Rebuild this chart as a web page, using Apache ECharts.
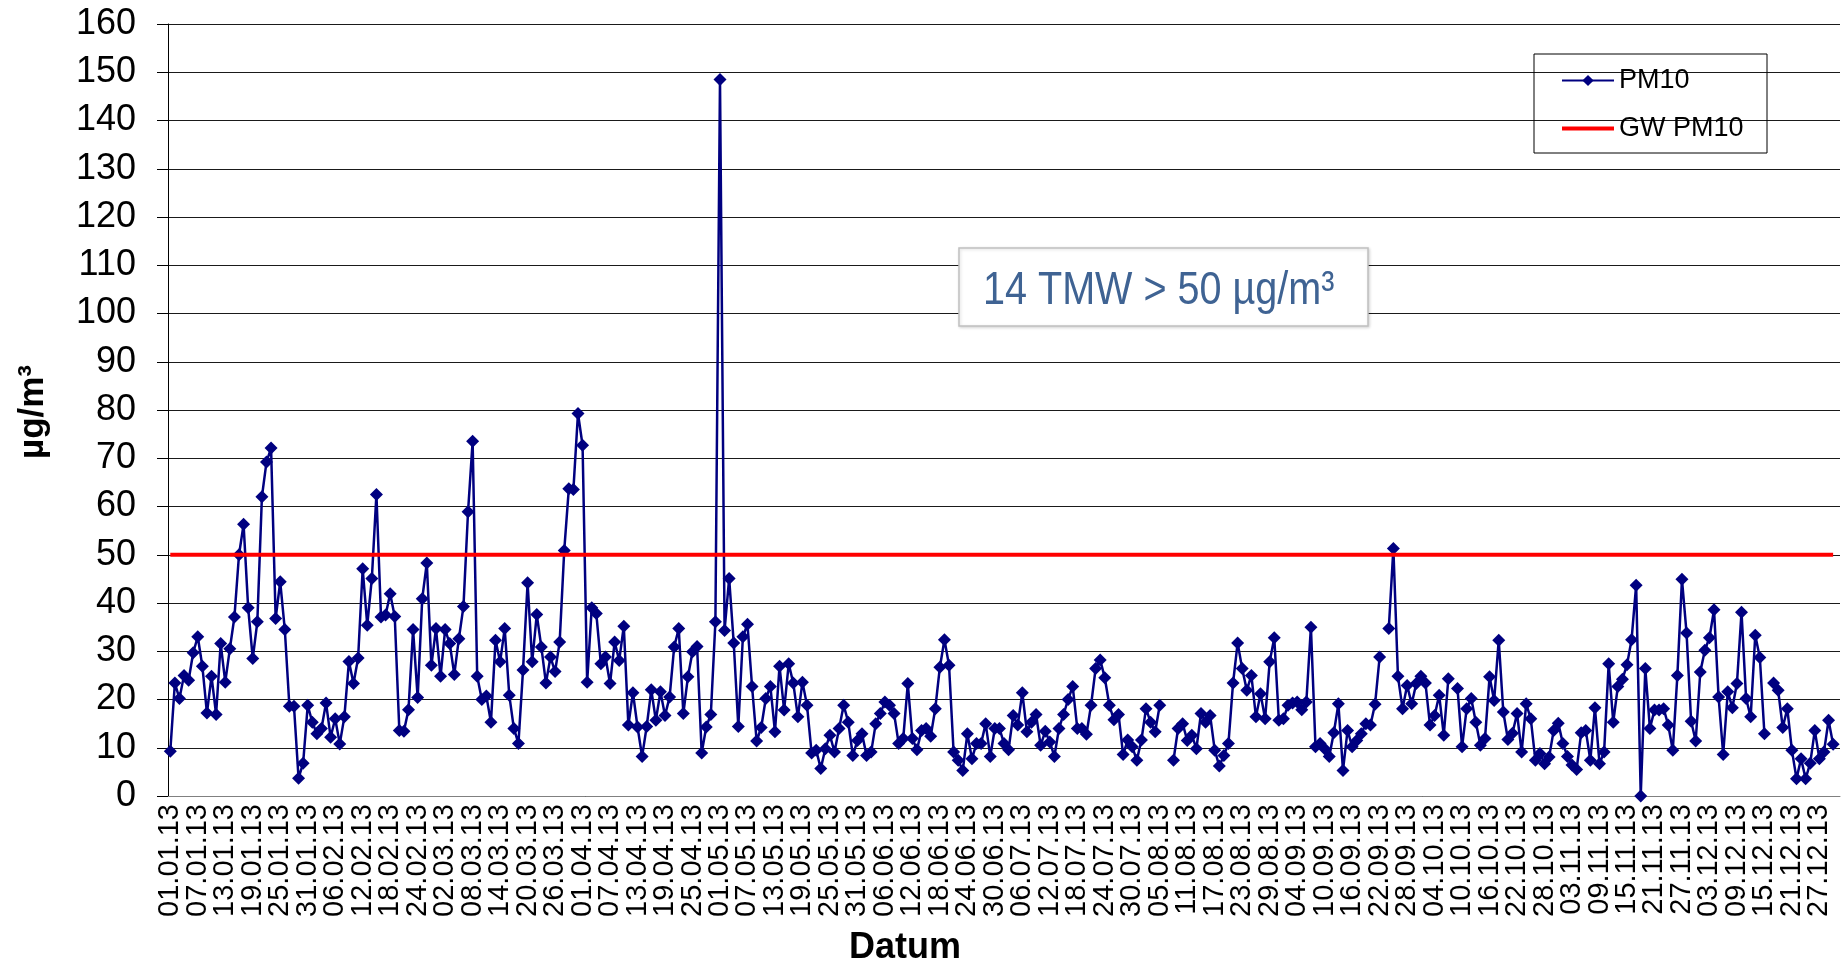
<!DOCTYPE html>
<html>
<head>
<meta charset="utf-8">
<script src="https://cdn.jsdelivr.net/npm/echarts@6/dist/echarts.min.js"></script>
<style>html,body{margin:0;padding:0;background:#fff;}#c{width:1846px;height:963px;}</style>
</head>
<body>
<div id="c"></div>
<script>
// PM10 daily means 2013 (µg/m³), one array per month; null = no measurement
const jan = [9.3,23.4,20.2,25.0,24.0,29.7,33.0,26.9,17.2,24.8,16.9,31.6,23.6,30.5,37.1,50.0,56.3,39.0,28.5,36.1,62.0,69.2,72.1,36.8,44.4,34.5,18.6,18.6,3.7,6.8,18.8];
const feb = [15.3,12.9,14.0,19.3,12.2,16.0,10.8,16.4,27.9,23.3,28.6,47.1,35.4,45.1,62.5,37.1,37.5,41.9,37.2,13.6,13.4,17.9,34.5,20.4,40.9,48.3,27.1,34.7];
const mar = [24.8,34.5,31.6,25.2,32.6,39.3,58.9,73.5,24.8,20.0,20.7,15.3,32.3,27.8,34.7,20.9,14.0,10.9,26.1,44.2,27.8,37.6,30.9,23.4,28.8,25.8,31.9,50.9,63.7,63.5,79.3];
const apr = [72.7,23.6,39.0,37.8,27.4,28.8,23.3,31.9,28.1,35.2,14.7,21.4,14.3,8.2,14.4,22.0,15.7,21.6,16.7,20.5,30.9,34.7,17.1,24.7,29.9,31.0,8.9,14.3,16.9,36.1];
const may = [148.5,34.3,45.1,31.7,14.4,33.0,35.6,22.7,11.4,14.2,20.2,22.7,13.3,26.9,17.8,27.4,23.4,16.4,23.6,18.8,8.9,9.5,5.7,9.8,12.6,9.1,14.0,18.8,15.3,8.4,11.5];
const jun = [12.9,8.4,9.1,15.0,17.1,19.5,18.8,17.1,10.9,11.9,23.3,11.9,9.6,13.6,14.0,12.4,18.1,26.7,32.4,27.1,9.1,7.4,5.3,12.9,7.7,10.9,10.9,15.0,8.2,14.0];
const jul = [14.0,10.9,9.6,16.7,14.7,21.4,13.3,15.3,16.9,10.5,13.4,11.2,8.2,14.0,16.9,20.0,22.7,14.0,14.0,12.8,18.8,26.4,28.2,24.5,18.8,15.8,16.9,8.6,11.6,10.2,7.4];
const aug = [11.6,18.1,15.3,13.3,18.8,null,null,7.4,14.0,15.0,11.5,12.6,9.8,17.1,15.3,16.7,9.5,6.2,8.4,10.9,23.4,31.7,26.4,21.9,25.0,16.4,21.2,16.0,27.8,32.8,15.7];
const sep = [16.0,18.8,19.3,19.5,17.9,19.5,35.0,10.2,10.9,9.8,8.2,13.1,19.1,5.3,13.6,10.2,11.5,12.9,15.0,14.7,19.0,28.8,null,34.7,51.3,24.8,18.1,22.9,19.1,23.3];
const oct = [24.8,23.4,14.7,16.7,20.9,12.6,24.3,null,22.3,10.2,18.1,20.2,15.3,10.5,11.9,24.7,19.8,32.3,17.4,11.7,13.0,17.1,9.1,19.1,16.0,7.4,8.8,6.7,8.1,13.6,15.1];
const nov = [10.9,8.2,6.4,5.5,13.1,13.6,7.4,18.3,6.7,9.1,27.4,15.3,22.7,24.2,27.2,32.4,43.7,0,26.4,14.0,17.8,17.8,18.1,14.7,9.5,25.0,44.9,33.8,15.5,11.4];
const dec = [25.7,30.2,32.8,38.6,20.5,8.6,21.6,18.3,23.3,38.1,20.2,16.4,33.3,28.7,12.9,null,23.4,21.9,14.2,18.1,9.5,3.6,7.7,3.6,6.8,13.6,7.7,9.1,15.7,10.7,null];
const pm10 = [].concat(jan,feb,mar,apr,may,jun,jul,aug,sep,oct,nov,dec);

// limit value (Grenzwert) PM10
const gwValue = 50;
const gwFirstDay = 0, gwLastDay = 363;

// categories: every day of 2013 as dd.mm.yy
const dates = [];
for (let i = 0; i < 365; i++) {
  const d = new Date(Date.UTC(2013, 0, 1 + i));
  const dd = String(d.getUTCDate()).padStart(2, '0');
  const mm = String(d.getUTCMonth() + 1).padStart(2, '0');
  dates.push(dd + '.' + mm + '.13');
}
const labelStep = 6; // a tick label every 6th day

const annotationText = '14 TMW > 50 µg/m³';
const yTitle = 'µg/m³';
const xTitle = 'Datum';
const FONT = '"Liberation Sans", Arial, sans-serif';

const chart = echarts.init(document.getElementById('c'), null, {renderer: 'canvas'});
chart.setOption({
  animation: false,
  backgroundColor: '#ffffff',
  textStyle: {fontFamily: FONT},
  grid: {left: 168, right: 6, top: 24, bottom: 167, containLabel: false},
  legend: {
    orient: 'vertical', left: 1555, top: 62,
    itemWidth: 52, itemHeight: 14, itemGap: 21,
    textStyle: {fontSize: 27, color: '#000', fontFamily: FONT},
    data: [
      {name: 'PM10'},
      {name: 'GW PM10', itemStyle: {opacity: 0}, lineStyle: {width: 4, color: '#ff0000'}}
    ]
  },
  xAxis: {
    type: 'category', data: dates, boundaryGap: true,
    axisLine: {lineStyle: {color: '#808080', width: 1}},
    axisTick: {interval: labelStep - 1, length: 8, lineStyle: {color: '#808080'}},
    axisLabel: {
      interval: 0,
      formatter: function (val, idx) { return idx % labelStep === 0 ? val : ''; },
      hideOverlap: false,
      rotate: 90, fontSize: 29, color: '#000', fontFamily: FONT, margin: 8
    },
    splitLine: {show: false}
  },
  yAxis: {
    type: 'value', min: 0, max: 160, interval: 10,
    axisLine: {show: true, lineStyle: {color: '#000', width: 1}},
    axisTick: {show: true, length: 11, lineStyle: {color: '#000'}},
    axisLabel: {fontSize: 36, color: '#000', fontFamily: FONT, margin: 32},
    splitLine: {show: true, lineStyle: {color: '#1a1a1a', width: 1}}
  },
  series: [
    {
      name: 'PM10', type: 'line', data: pm10, connectNulls: false,
      symbol: 'diamond', symbolSize: 13, showAllSymbol: true,
      lineStyle: {color: '#000080', width: 2.5},
      itemStyle: {color: '#000080'}, z: 2
    },
    {
      name: 'GW PM10', type: 'line',
      data: [[dates[gwFirstDay], gwValue], [dates[gwLastDay], gwValue]],
      symbol: 'none', lineStyle: {color: '#ff0000', width: 4},
      itemStyle: {color: '#ff0000'}, z: 3
    }
  ],
  graphic: [
    {type: 'rect', shape: {x: 1534, y: 54, width: 233, height: 99},
     style: {fill: 'none', stroke: '#000', lineWidth: 1}, z: 10},
    {type: 'rect', shape: {x: 959, y: 248, width: 409, height: 78},
     style: {fill: '#fff', stroke: '#c0c0c0', lineWidth: 1.5,
             shadowBlur: 3, shadowColor: 'rgba(0,0,0,0.15)', shadowOffsetX: 1, shadowOffsetY: 1}, z: 10},
    {type: 'text', x: 983, y: 291, scaleX: 0.86, z: 11,
     style: {text: annotationText, x: 0, y: 0, fill: '#3f6393',
             font: '46px "Liberation Sans", Arial, sans-serif', textVerticalAlign: 'middle', textAlign: 'left'}},
    {type: 'text', x: 905, y: 948, z: 11,
     style: {text: xTitle, fill: '#000', font: 'bold 36px "Liberation Sans", Arial, sans-serif',
             textAlign: 'center', textVerticalAlign: 'middle'}},
    {type: 'text', x: 33, y: 412, rotation: Math.PI / 2, z: 11,
     style: {text: yTitle, fill: '#000', font: 'bold 35px "Liberation Sans", Arial, sans-serif',
             textAlign: 'center', textVerticalAlign: 'middle'}}
  ]
});
</script>
</body>
</html>
